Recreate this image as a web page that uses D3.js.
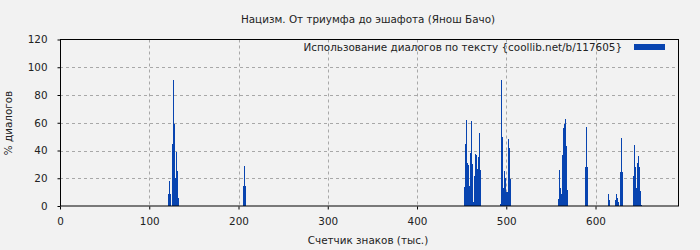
<!DOCTYPE html>
<html><head><meta charset="utf-8">
<script src="https://cdn.jsdelivr.net/npm/d3@7"></script>
<style>body{margin:0;background:#f2f2f2;} svg{display:block;} text{font-family:"DejaVu Sans",sans-serif;fill:#222;}</style>
</head><body><div id="chart"></div>
<script>
const title = "Нацизм. От триумфа до эшафота (Янош Бачо)";
const legendLabel = "Использование диалогов по тексту {coollib.net/b/117605}";
const xTitle = "Счетчик знаков (тыс.)";
const yTitle = "% диалогов";
const xTicks = [0,100,200,300,400,500,600];
const yTicks = [0,20,40,60,80,100,120];
const positions = [121,122,123,125,127,128,129,130,131,132,
  205,206,207,
  453,454,455,456,457,458,459,460,462,463,464,465,466,467,468,469,471,
  493,494,495,496,497,499,500,501,502,503,504,
  558,559,560,561,562,564,565,566,567,568,
  588,589,590,
  614,615,
  622,623,624,625,
  627,629,630,
  642,643,644,645,646,648,649,650,651];
const values = [8.6,18,8.6,45,91,59,20,39,25,6,
  14.5,29,14.5,
  14,44.6,62,31,29.6,14.4,38,61.4,30,3,21.6,37.4,36.5,26.5,35.3,52.4,26,
  1.4,91,50,13,25,20,10,10,48,42,19.4,
  5.3,26,13,8.6,36.7,56,59,62.6,43,11.5,
  28,57,28,
  8.6,4.3,
  4.3,8.6,5.8,2.9,
  24.5,49,24.5,
  21.6,44,28,13,31,36,28,11,1];
const xMax = 692.4, yMax = 120;

const W=700,H=250, L=60, R=678, T=39.5, B=206;
const FS = "10.4px";
const svg = d3.select("#chart").append("svg").attr("width",W).attr("height",H);
svg.append("rect").attr("width",W).attr("height",H).attr("fill","#f2f2f2");
const x = d3.scaleLinear().domain([0,xMax]).range([L,R]);
const y = d3.scaleLinear().domain([0,yMax]).range([B,T]);

// grid
const g = svg.append("g");
g.selectAll(".gy").data(yTicks.filter(d=>d>0&&d<yMax)).join("line")
  .attr("x1",L).attr("x2",R).attr("y1",d=>Math.round(y(d))+0.5).attr("y2",d=>Math.round(y(d))+0.5)
  .attr("stroke","#a8a8a8").attr("stroke-dasharray","3,3");
g.selectAll(".gx").data(xTicks.filter(d=>d>0)).join("line")
  .attr("y1",T).attr("y2",B).attr("x1",d=>Math.round(x(d))+0.5).attr("x2",d=>Math.round(x(d))+0.5)
  .attr("stroke","#a8a8a8").attr("stroke-dasharray","3,3");

// bars
svg.append("g").selectAll("rect").data(positions.map((p,i)=>({p,v:values[i]}))).join("rect")
  .attr("x",d=>Math.round(x(d.p)))
  .attr("width",d=>Math.max(1,Math.round(x(d.p+1))-Math.round(x(d.p))))
  .attr("y",d=>Math.round(y(d.v)))
  .attr("height",d=>B-Math.round(y(d.v)))
  .attr("fill","#0844b0").attr("shape-rendering","crispEdges");

// frame
svg.append("rect").attr("x",L+0.5).attr("y",T).attr("width",R-L).attr("height",B-T)
  .attr("fill","none").attr("stroke","#000").attr("stroke-width",1);

// axes
const xa = svg.append("g").attr("transform",`translate(0,${B+0.5})`)
  .call(d3.axisBottom(x).tickValues(xTicks).tickSize(3).tickFormat(d3.format("d")));
const ya = svg.append("g").attr("transform",`translate(${L+0.5},0)`)
  .call(d3.axisLeft(y).tickValues(yTicks).tickSize(3).tickFormat(d3.format("d")));
[xa,ya].forEach(a=>{a.select(".domain").remove();
  a.selectAll("text").style("font-size",FS).attr("fill","#222").style("font-family","'DejaVu Sans',sans-serif");
  a.selectAll("line").attr("stroke","#000");});
xa.selectAll("text").attr("dy","0.71em").attr("y",11);
ya.selectAll("text").attr("x",-13);

// titles
svg.append("text").attr("x",368).attr("y",23).attr("text-anchor","middle").style("font-size",FS).text(title);
svg.append("text").attr("x",368).attr("y",244).attr("text-anchor","middle").style("font-size",FS).text(xTitle);
svg.append("text").attr("transform","translate(12,123) rotate(-90)").attr("text-anchor","middle").style("font-size",FS).text(yTitle);

// legend
svg.append("text").attr("x",622).attr("y",51).attr("text-anchor","end").style("font-size",FS).text(legendLabel);
svg.append("rect").attr("x",634).attr("y",44).attr("width",31).attr("height",6).attr("fill","#0844b0");
</script></body></html>
